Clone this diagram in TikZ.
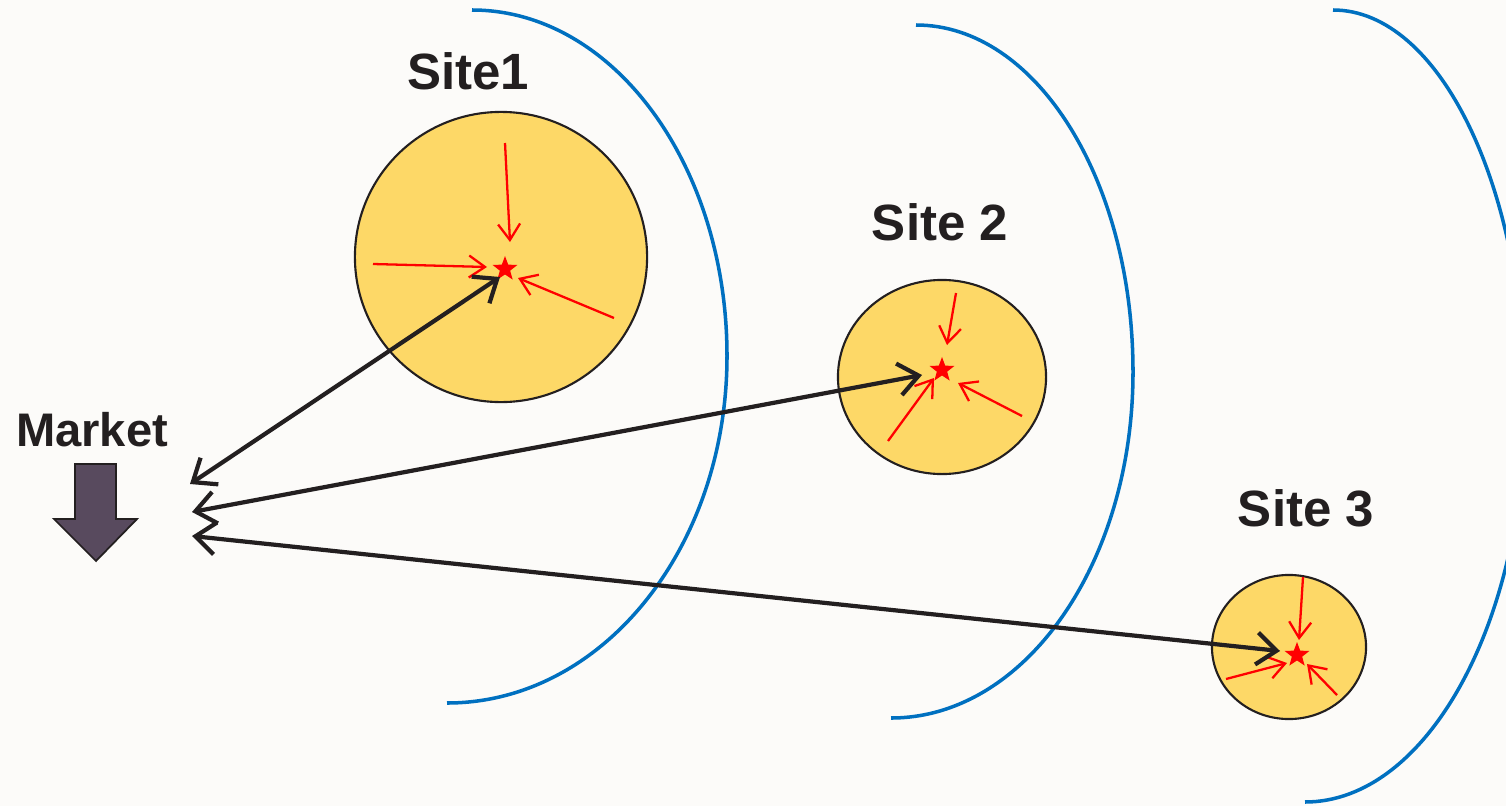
\documentclass[tikz,border=0pt]{standalone}
\usepackage{fontspec}
\setmainfont{Liberation Sans}
\usetikzlibrary{arrows.meta,shapes.geometric}
\definecolor{bg}{RGB}{252,251,249}
\definecolor{arcblue}{RGB}{0,112,192}
\definecolor{sunny}{RGB}{253,216,103}
\definecolor{ink}{RGB}{35,31,32}
\definecolor{mkt}{RGB}{88,74,94}
\begin{document}
\begin{tikzpicture}[x=0.01cm,y=-0.01cm,
  arcline/.style={draw=arcblue,line width=1pt},
  sitecircle/.style={ellipse,draw=ink,fill=sunny,line width=0.6pt,inner sep=0pt},
  starnode/.style={star,star points=5,star point ratio=2.4,fill=red,draw=none,minimum size=0.26cm,inner sep=0pt},
  redarrow/.style={draw=red,line width=0.65pt,-{Straight Barb[length=1.6mm,width=2.2mm]}},
  dblarrow/.style={draw=ink,line width=1.2pt,{Straight Barb[length=2mm,width=3.2mm]}-{Straight Barb[length=2mm,width=3.2mm]}},
  lbl/.style={text=ink,font=\bfseries\fontsize{14.5}{17}\selectfont,inner sep=0pt},
  mlbl/.style={text=ink,font=\bfseries\fontsize{13.4}{16}\selectfont,inner sep=0pt}]
\fill[bg] (0,0) rectangle (1506,806);
\useasboundingbox (0,0) rectangle (1506,806);
\clip (0,0) rectangle (1506,806);

% blue arcs
\draw[arcline] (472,10) .. controls (613,10) and (727,165) .. (727,356)
  .. controls (727,548) and (602,703) .. (447,703);
\draw[arcline] (916,25) .. controls (1036,25) and (1133,180) .. (1133,372)
  .. controls (1133,563) and (1025,718) .. (891,718);
\draw[arcline] (1333,10) .. controls (1439,10) and (1525,186) .. (1525,405)
  .. controls (1525,624) and (1426,802) .. (1305,802);

% site circles
\node[sitecircle,minimum width=2.92cm,minimum height=2.90cm] (c1) at (501,257) {};
\node[sitecircle,minimum width=2.08cm,minimum height=1.94cm] (c2) at (942,377) {};
\node[sitecircle,minimum width=1.54cm,minimum height=1.44cm] (c3) at (1289,647) {};

% labels
\node[lbl] (site1) at (468,71) {Site1};
\node[lbl] (site2) at (940,222) {Site 2};
\node[lbl] (site3) at (1306,508) {Site 3};
\node[mlbl] (market) at (92,430) {Market};

% market arrow
\draw[ink,fill=mkt,line width=0.5pt] (75,464) -- (116,464) -- (116,519) -- (137,519)
  -- (96,561) -- (54,519) -- (75,519) -- cycle;

% stars
\node[starnode] (s1) at (505,269) {};
\node[starnode] (s2) at (942,370) {};
\node[starnode] (s3) at (1297,655) {};

% red arrows site 1
\coordinate (r1a) at (505,143); \coordinate (r1b) at (510,242);
\coordinate (r1c) at (373,264); \coordinate (r1d) at (487,267);
\coordinate (r1e) at (614,318); \coordinate (r1f) at (518,278);
\draw[redarrow] (r1a) -- (r1b);
\draw[redarrow] (r1c) -- (r1d);
\draw[redarrow] (r1e) -- (r1f);

% red arrows site 2
\coordinate (r2a) at (956,293); \coordinate (r2b) at (947,345);
\coordinate (r2c) at (888,441); \coordinate (r2d) at (934,378);
\coordinate (r2e) at (1022,416); \coordinate (r2f) at (958,383);
\draw[redarrow] (r2a) -- (r2b);
\draw[redarrow] (r2c) -- (r2d);
\draw[redarrow] (r2e) -- (r2f);

% red arrows site 3
\coordinate (r3a) at (1303,577); \coordinate (r3b) at (1299,640);
\coordinate (r3c) at (1226,679); \coordinate (r3d) at (1287,663);
\coordinate (r3e) at (1337,695); \coordinate (r3f) at (1307,664);
\draw[redarrow] (r3a) -- (r3b);
\draw[redarrow] (r3c) -- (r3d);
\draw[redarrow] (r3e) -- (r3f);

% black double arrows
\coordinate (m1) at (190,484); \coordinate (t1) at (500,277);
\coordinate (m2) at (192,512); \coordinate (t2) at (922,375);
\coordinate (m3) at (192,536); \coordinate (t3) at (1280,651);
\draw[dblarrow] (m1) -- (t1);
\draw[dblarrow] (m2) -- (t2);
\draw[dblarrow] (m3) -- (t3);
\end{tikzpicture}
\end{document}
